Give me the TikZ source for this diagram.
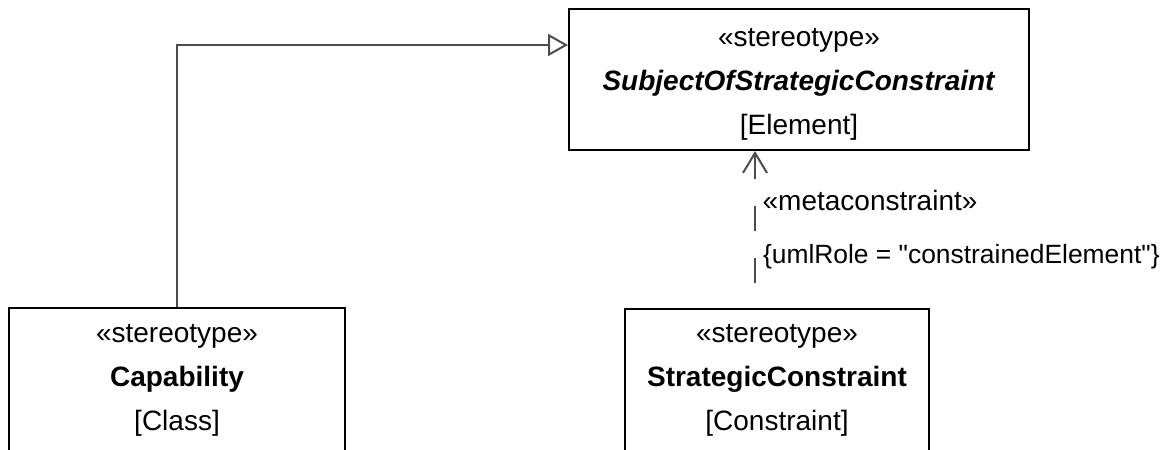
\documentclass[tikz,border=0pt]{standalone}
\usepackage{fontspec}
\setmainfont{Liberation Sans}
\usetikzlibrary{arrows.meta,calc}

\tikzset{
  umlbox/.style={draw=black, line width=1pt, fill=white, inner sep=0pt},
  umltext/.style={align=center},
  gen/.style={draw=black!70, line width=1pt, -{Triangle[open, length=10pt, width=11pt]}},
  dep/.style={draw=black!70, line width=1pt, dash pattern=on 12.5pt off 13.5pt,
    dash phase=13.5pt, -{Straight Barb[length=10pt, width=12pt]}},
}

\begin{document}
\begin{tikzpicture}[x=0.5pt, y=-0.5pt, font=\fontsize{14}{22}\selectfont]
  \useasboundingbox (0,0) rectangle (1170,449);
  \clip (0,0) rectangle (1170,449);

  % stereotypes
  \node[umlbox, minimum width=230pt, minimum height=70.5pt] (subj) at (799,79.5) {};
  \node[umltext] (subjText) at (799,84)
    {«stereotype»\\ \textbf{\textit{SubjectOfStrategicConstraint}}\\ {[Element]}};
  \node[umlbox, minimum width=168pt, minimum height=100pt, anchor=north] (capBox) at (177,307) {};
  \node[umltext] (capText) at (177,380) {«stereotype»\\ \textbf{Capability}\\ {[Class]}};
  \node[umlbox, minimum width=152pt, minimum height=100pt, anchor=north] (stratBox) at (777,308) {};
  \node[umltext] (stratText) at (777,380) {«stereotype»\\ \textbf{StrategicConstraint}\\ {[Constraint]}};

  % generalization
  \draw[gen] (capBox.north) |- ($(subj.north west)+(0,37)$);

  % metaconstraint
  \coordinate (depFoot) at ($(stratBox.north)+(-22,0)$);
  \draw[dep] (depFoot) -- (depFoot |- subj.south)
    node[pos=0.329, anchor=west, text=black, inner sep=3.5pt, font=\fontsize{13.2}{16}\selectfont]
      {\{umlRole = \textquotedbl constrainedElement\textquotedbl\}}
    node[pos=0.684, anchor=west, text=black] {«metaconstraint»};
\end{tikzpicture}
\end{document}
